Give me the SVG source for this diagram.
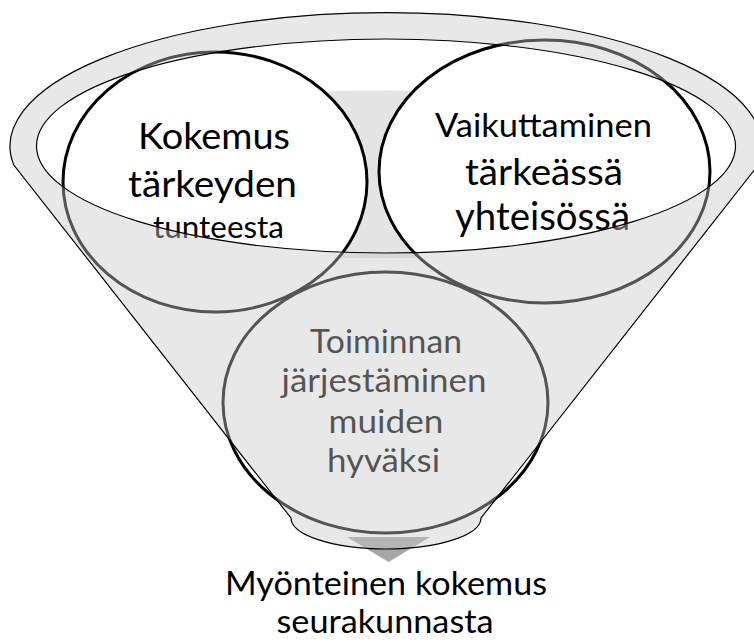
<svg xmlns="http://www.w3.org/2000/svg" width="754" height="642" viewBox="0 0 754 642">
  <style>
    .bubble { fill: #ffffff; stroke: #000000; stroke-width: 3; }
    .lbl { font-family: Lato, "Liberation Sans", sans-serif; fill: #000000; text-anchor: middle; }
    .overlay { fill: #c8c8c8; fill-opacity: 0.42; fill-rule: evenodd; stroke: none; }
    .outline { fill: none; stroke: #000000; stroke-width: 1.2; }
  </style>
  <rect x="0" y="0" width="754" height="642" fill="#ffffff"/>

  <g id="funnel-throat">
    <path d="M 250 95 Q 386 86 520 95 L 520 258 L 250 258 Z" fill="#e4e4e4"/>
  </g>

  <g id="connectors">
    <polygon points="347,537 430,537 388.5,562" fill="#a6a6a6"/>
  </g>

  <g id="node-kokemus">
    <ellipse class="bubble" cx="215" cy="182" rx="152" ry="130"/>
    <text class="lbl" x="214" y="149" font-size="37.6" textLength="152" lengthAdjust="spacingAndGlyphs">Kokemus</text>
    <text class="lbl" x="212.5" y="197" font-size="37.6" textLength="169" lengthAdjust="spacingAndGlyphs">tärkeyden</text>
    <text class="lbl" x="218.5" y="238" font-size="31" textLength="131" lengthAdjust="spacingAndGlyphs">tunteesta</text>
  </g>

  <g id="node-vaikuttaminen">
    <ellipse class="bubble" cx="544.5" cy="171.5" rx="165.5" ry="131.5"/>
    <text class="lbl" x="543.5" y="136.5" font-size="33" textLength="217" lengthAdjust="spacingAndGlyphs">Vaikuttaminen</text>
    <text class="lbl" x="544" y="185" font-size="37.6" textLength="158" lengthAdjust="spacingAndGlyphs">tärkeässä</text>
    <text class="lbl" x="542.5" y="230" font-size="38" textLength="175" lengthAdjust="spacingAndGlyphs">yhteisössä</text>
  </g>

  <g id="node-toiminnan">
    <ellipse class="bubble" cx="385.5" cy="402.5" rx="162.5" ry="130.5"/>
    <text class="lbl" x="386" y="353" font-size="33.5" textLength="152" lengthAdjust="spacingAndGlyphs">Toiminnan</text>
    <text class="lbl" x="384" y="392" font-size="33.5" textLength="205" lengthAdjust="spacingAndGlyphs">järjestäminen</text>
    <text class="lbl" x="386" y="433" font-size="33.5" textLength="115" lengthAdjust="spacingAndGlyphs">muiden</text>
    <text class="lbl" x="383.5" y="472" font-size="33.5" textLength="113" lengthAdjust="spacingAndGlyphs">hyväksi</text>
  </g>

  <g id="funnel">
    <path class="overlay" d="M 13.8 165 A 376 133.5 0 1 1 758.2 165 L 481 518 A 95 31 0 0 1 291 518 Z M 36.5 146 A 349.5 107 0 1 0 735.5 146 A 349.5 107 0 1 0 36.5 146 Z"/>
    <path class="outline" d="M 13.8 165 A 376 133.5 0 1 1 758.2 165 L 481 518 A 95 31 0 0 1 291 518 Z"/>
    <ellipse class="outline" cx="386" cy="146" rx="349.5" ry="107"/>
  </g>

  <g id="node-result">
    <text class="lbl" x="386" y="595" font-size="33.4" textLength="322" lengthAdjust="spacingAndGlyphs">Myönteinen kokemus</text>
    <text class="lbl" x="385" y="633" font-size="33.4" textLength="217" lengthAdjust="spacingAndGlyphs">seurakunnasta</text>
  </g>
</svg>
